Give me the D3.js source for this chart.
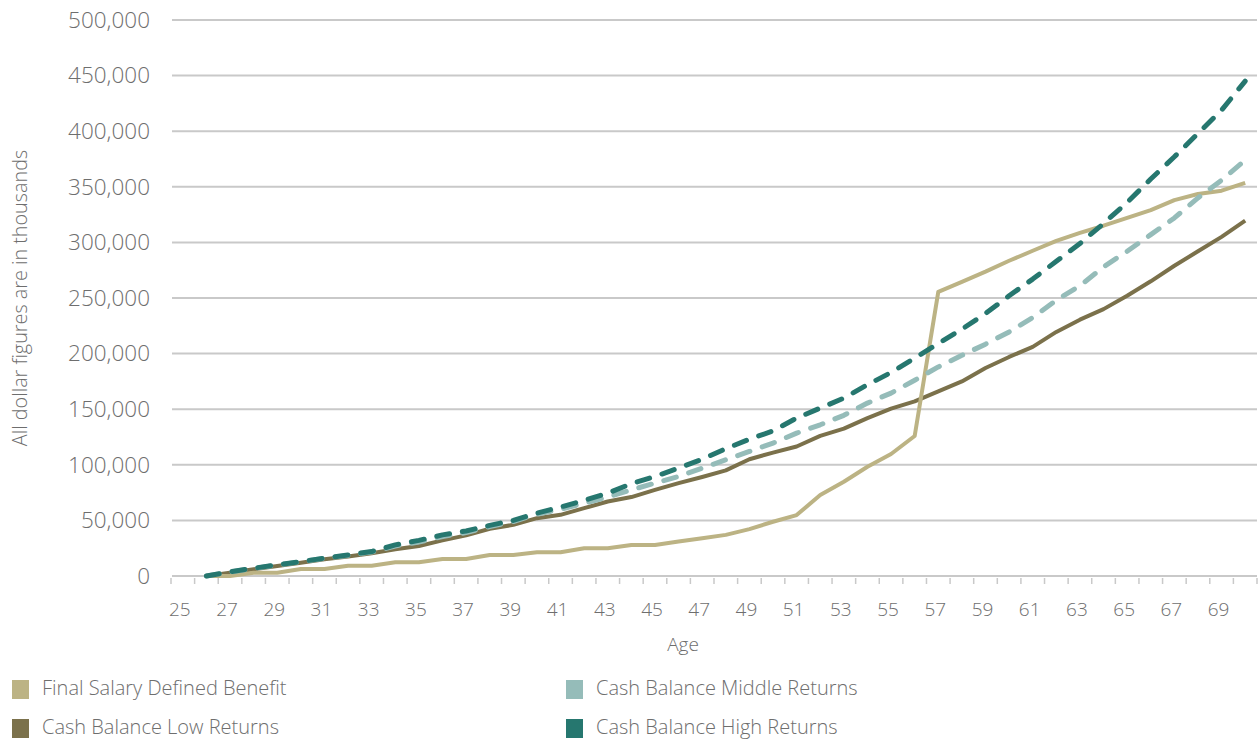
<!DOCTYPE html>
<html>
<head>
<meta charset="utf-8">
<script src="https://cdn.jsdelivr.net/npm/d3@7/dist/d3.min.js"></script>
<style>
  html, body { margin: 0; padding: 0; background: #ffffff; }
  svg { display: block; font-family: "Open Sans", Lato, sans-serif; font-weight: 300; }
</style>
</head>
<body>
<svg id="chart" width="1259" height="742"></svg>
<script>
// Age categories on the horizontal axis
const ages = [25, 26, 27, 28, 29, 30, 31, 32, 33, 34, 35, 36, 37, 38, 39, 40, 41, 42, 43, 44, 45, 46, 47,
  48, 49, 50, 51, 52, 53, 54, 55, 56, 57, 58, 59, 60, 61, 62, 63, 64, 65, 66, 67, 68, 69, 70];

// Labelled ages (every other year)
const ageLabels = [25, 27, 29, 31, 33, 35, 37, 39, 41, 43, 45, 47, 49, 51, 53, 55, 57, 59, 61, 63, 65, 67, 69];

// Value axis ticks
const valueTicks = [0, 50000, 100000, 150000, 200000, 250000, 300000, 350000, 400000, 450000, 500000];

// Benefit values by age (no value at 25)
const finalSalary = [null, 0, 0, 3000, 3000, 6300, 6300, 9300, 9300, 12300, 12300, 15300, 15300, 18900, 18900,
  21300, 21300, 24900, 24900, 27900, 27900, 31000, 34000, 37000, 42200, 48800, 54800, 72800, 84800, 98300,
  109700, 125900, 255500, 264500, 273700, 283500, 292500, 301400, 308600, 315000, 322000, 329000, 338000,
  343500, 346500, 353500];

const lowReturns = [null, 0, 3000, 6000, 9000, 12000, 15000, 17500, 20500, 24000, 27000, 32000, 36500, 42500,
  46000, 52000, 55000, 61000, 67000, 71000, 77500, 83500, 89000, 95000, 105000, 111000, 116500, 126000,
  132500, 142000, 150500, 157000, 166000, 175000, 187000, 197000, 206000, 219500, 230500, 240000, 252000,
  265000, 279000, 292000, 305000, 319500];

const middleReturns = [null, 0, 3500, 6800, 9800, 12800, 15800, 18500, 21500, 27000, 30500, 35500, 39000,
  44500, 49000, 55500, 60000, 65500, 71000, 77500, 83500, 89500, 97000, 104500, 112000, 119500, 128500,
  136000, 144500, 155500, 164500, 176000, 188000, 198500, 208500, 219500, 232500, 248000, 261000, 278000,
  292000, 307000, 322000, 340000, 356000, 374000];

const highReturns = [null, 0, 3800, 7000, 10000, 13000, 16000, 19000, 22000, 28000, 32000, 37000, 40500,
  45500, 50000, 56500, 62000, 68000, 74500, 83000, 89500, 97000, 105000, 114500, 123000, 130500, 142000,
  151000, 160000, 172000, 183000, 196000, 209000, 222000, 236000, 252000, 267000, 283000, 299000, 317000,
  336000, 357000, 377000, 398000, 419000, 445000];

const seriesNames = ["Final Salary Defined Benefit", "Cash Balance Low Returns",
  "Cash Balance Middle Returns", "Cash Balance High Returns"];

const colors = {
  "Final Salary Defined Benefit": "#bcb384",
  "Cash Balance Low Returns": "#7b714b",
  "Cash Balance Middle Returns": "#95bcb9",
  "Cash Balance High Returns": "#26776f"
};

const series = [
  { name: seriesNames[1], values: lowReturns, dashed: false },
  { name: seriesNames[0], values: finalSalary, dashed: false },
  { name: seriesNames[2], values: middleReturns, dashed: true },
  { name: seriesNames[3], values: highReturns, dashed: true }
];

const textColor = "#6e6e6e";
const svg = d3.select("#chart");
const plot = { left: 171, right: 1257, top: 20, bottom: 576 };

const x = d3.scaleBand().domain(ages).range([plot.left, plot.right]).padding(0);
const y = d3.scaleLinear().domain([0, 500000]).range([plot.bottom, plot.top]);
const fmt = d3.format(",");

// horizontal gridlines
svg.append("g")
  .selectAll("line")
  .data(valueTicks)
  .join("line")
  .attr("x1", plot.left + 1)
  .attr("x2", plot.right)
  .attr("y1", d => y(d))
  .attr("y2", d => y(d))
  .attr("stroke", "#c9c9c9")
  .attr("stroke-width", 2);

// value axis labels
const yAxis = d3.axisLeft(y).tickValues(valueTicks).tickFormat(fmt).tickSize(0).tickPadding(0);
const gy = svg.append("g").attr("transform", "translate(150,0)").call(yAxis);
gy.select(".domain").remove();
gy.selectAll("text")
  .attr("fill", textColor)
  .style("font-size", "22.5px")
  .style("font-family", "\"Open Sans\", sans-serif")
  .style("font-weight", 300);

// category tick marks at band edges
const edges = ages.map(a => x(a)).concat([x(ages[ages.length - 1]) + x.bandwidth()]);
svg.append("g")
  .selectAll("line")
  .data(edges)
  .join("line")
  .attr("x1", d => d)
  .attr("x2", d => d)
  .attr("y1", plot.bottom + 2)
  .attr("y2", plot.bottom + 8)
  .attr("stroke", "#c9c9c9")
  .attr("stroke-width", 1.5);

// age labels
svg.append("g")
  .selectAll("text")
  .data(ageLabels)
  .join("text")
  .attr("x", d => x(d) + x.bandwidth() / 2 - 3)
  .attr("y", 611)
  .attr("text-anchor", "middle")
  .attr("dominant-baseline", "middle")
  .attr("fill", textColor)
  .style("font-size", "19px")
  .text(d => d);

// axis titles
svg.append("text")
  .attr("x", 683)
  .attr("y", 646)
  .attr("text-anchor", "middle")
  .attr("dominant-baseline", "middle")
  .attr("fill", textColor)
  .style("font-size", "19px")
  .text("Age");

svg.append("text")
  .attr("transform", "translate(22,298) rotate(-90)")
  .attr("text-anchor", "middle")
  .attr("dominant-baseline", "middle")
  .attr("fill", textColor)
  .style("font-size", "19.8px")
  .text("All dollar figures are in thousands");

// series lines
const line = d3.line()
  .defined(d => d.v !== null)
  .x(d => x(d.age) + x.bandwidth() / 2)
  .y(d => y(d.v));

svg.append("g")
  .selectAll("path")
  .data(series)
  .join("path")
  .attr("d", s => line(ages.map((a, i) => ({ age: a, v: s.values[i] }))))
  .attr("fill", "none")
  .attr("stroke", s => colors[s.name])
  .attr("stroke-width", s => s.dashed ? 5 : 4)
  .attr("stroke-linecap", s => s.dashed ? "round" : "butt")
  .attr("stroke-linejoin", "round")
  .attr("stroke-dasharray", s => s.dashed ? "13,13" : null);

// legend
const legendItems = [
  { name: seriesNames[0], col: 0, row: 0 },
  { name: seriesNames[2], col: 1, row: 0 },
  { name: seriesNames[1], col: 0, row: 1 },
  { name: seriesNames[3], col: 1, row: 1 }
];
const legend = svg.append("g")
  .selectAll("g")
  .data(legendItems)
  .join("g")
  .attr("transform", d => `translate(${d.col === 0 ? 12 : 566},${d.row === 0 ? 680 : 719})`);
legend.append("rect")
  .attr("width", 17)
  .attr("height", 19)
  .attr("fill", d => colors[d.name]);
legend.append("text")
  .attr("x", 30)
  .attr("y", 10)
  .attr("dominant-baseline", "middle")
  .attr("fill", textColor)
  .style("font-size", "20px")
  .text(d => d.name);
</script>
</body>
</html>
